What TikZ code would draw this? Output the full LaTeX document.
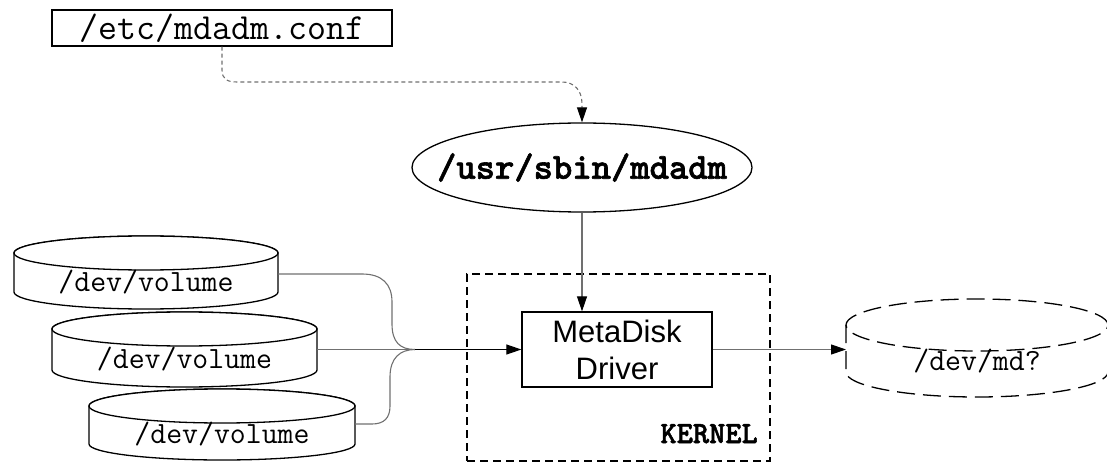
\documentclass[tikz,border=0pt]{standalone}
\usepackage{fontspec}
\newfontfamily\sansf{Liberation Sans}
\newfontfamily\ttboldf[FakeBold=1.6]{lmmonolt10-bold.otf}
\usetikzlibrary{arrows.meta,shapes.geometric}
\definecolor{lnk}{HTML}{707070}
\begin{document}
\begin{tikzpicture}[x=1pt,y=-1pt,
  box/.style={draw,line width=1.3pt,inner sep=0pt},
  link/.style={draw=lnk,line width=1.1pt},
  tip/.style={-{Triangle[length=15pt,width=10pt,color=black]}},
  cyl/.style={draw,line width=1.3pt,fill=white},
  dcyl/.style={draw,line width=1.3pt,dash pattern=on 18pt off 8pt},
  bigmono/.style={font=\ttfamily\fontsize{36.8}{40}\selectfont},
  volfont/.style={font=\ttfamily\fontsize{30.9}{34}\selectfont},
]
\useasboundingbox (0,0) rectangle (1107,462);

% config file and mdadm
\node[box,bigmono,minimum width=340pt,minimum height=36pt] (conf) at (222,28) {/etc/mdadm.conf};
\node[box,ellipse,font=\ttboldf\fontsize{36.8}{40}\selectfont,inner xsep=-50pt,inner ysep=-4pt,
      minimum width=340pt,minimum height=89pt] (mdadm) at (582,167.5) {/usr/sbin/mdadm};

% kernel box and driver
\node[draw,line width=1.3pt,dash pattern=on 8pt off 5pt,minimum width=303pt,minimum height=187pt,inner sep=0pt] (kernel) at (618.5,367.5) {};
\node[box,minimum width=190pt,minimum height=75pt,align=center,font=\sansf\fontsize{31}{37}\selectfont] (driver) at (617,349.5) {MetaDisk\\Driver};
\node[anchor=base east,font=\ttboldf\fontsize{30.9}{34}\selectfont,inner sep=0pt] (klabel) at (758,443) {KERNEL};

% volume cylinders
\filldraw[cyl] (14,253) -- (14,292) arc[start angle=180,end angle=360,x radius=132pt,y radius=17pt] -- (278,253) arc[start angle=0,end angle=180,x radius=132pt,y radius=17pt] -- cycle;
\draw[cyl] (146,253) ellipse[x radius=132pt,y radius=17pt];
\node[volfont,anchor=base,inner sep=0pt] (v1) at (146,291) {/dev/volume};
\coordinate (v1e) at (278,274);

\filldraw[cyl] (52,329) -- (52,370) arc[start angle=180,end angle=360,x radius=132.5pt,y radius=17pt] -- (317,329) arc[start angle=0,end angle=180,x radius=132.5pt,y radius=17pt] -- cycle;
\draw[cyl] (184.5,329) ellipse[x radius=132.5pt,y radius=17pt];
\node[volfont,anchor=base,inner sep=0pt] (v2) at (184.5,368) {/dev/volume};
\coordinate (v2e) at (317,349.5);

\filldraw[cyl] (89,406) -- (89,444) arc[start angle=180,end angle=360,x radius=133pt,y radius=16pt] -- (355,406) arc[start angle=0,end angle=180,x radius=133pt,y radius=17pt] -- cycle;
\draw[cyl] (222,406) ellipse[x radius=133pt,y radius=17pt];
\node[volfont,anchor=base,inner sep=0pt] (v3) at (222,443) {/dev/volume};
\coordinate (v3e) at (355,424);

% md device (dashed cylinder)
\draw[dcyl] (846,325) -- (846,372) arc[start angle=180,end angle=360,x radius=131pt,y radius=25pt] -- (1108,325);
\draw[dcyl] (977,325) ellipse[x radius=131pt,y radius=26pt];
\node[volfont,anchor=base,inner sep=0pt] (md) at (977,370) {/dev/md?};
\coordinate (mdW) at (846,349.5);

% connectors
\draw[link,dash pattern=on 4pt off 3pt,tip] (conf.south) -- (222,70) .. controls (222,79) and (227,82) .. (237,82) -- (562,82) .. controls (574,82) and (582,90) .. (582,104) -- (mdadm.north);
\draw[link,tip] (mdadm.south) -- (mdadm.south |- driver.north);
\draw[link,tip] (driver.east) -- (mdW);

\coordinate (merge) at (415,349.5);
\draw[link] (v1e) -- (362,274) .. controls (382,274) and (392,284) .. (392,302) -- (392,324) .. controls (392,342) and (400,349.5) .. (merge);
\draw[link] (v2e) -- (merge);
\draw[link] (v3e) -- (372,424) .. controls (384,424) and (390,418) .. (390,406) -- (390,377) .. controls (390,358) and (400,349.5) .. (merge);
\draw[line width=1.1pt,tip] (merge) -- (driver.west);
\end{tikzpicture}
\end{document}
